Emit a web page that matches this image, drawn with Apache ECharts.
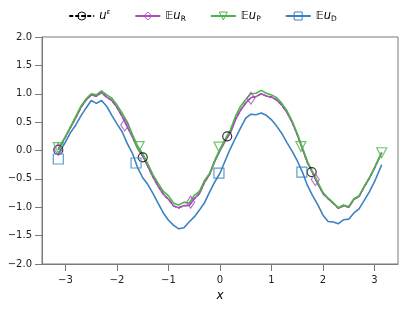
<!DOCTYPE html>
<html>
<head>
<meta charset="utf-8">
<script src="https://cdn.jsdelivr.net/npm/echarts@6/dist/echarts.min.js"></script>
<style>html,body{margin:0;padding:0;background:#fff;}#c{width:405px;height:309px;}</style>
</head>
<body>
<div id="c"></div>
<script>
const xs = [-3.14,-3.0,-2.9,-2.8,-2.7,-2.6,-2.5,-2.4,-2.3,-2.2,-2.1,-2.0,-1.9,-1.8,-1.7,-1.6,-1.5,-1.4,-1.3,-1.2,-1.1,-1.0,-0.9,-0.8,-0.7,-0.6,-0.5,-0.4,-0.3,-0.2,-0.1,0.0,0.1,0.2,0.3,0.4,0.5,0.6,0.7,0.8,0.9,1.0,1.1,1.2,1.3,1.4,1.5,1.6,1.7,1.8,1.9,2.0,2.1,2.2,2.3,2.4,2.5,2.6,2.7,2.8,2.9,3.0,3.14];
const uEps = [0.02,0.24,0.41,0.58,0.76,0.89,0.98,0.96,1.02,0.94,0.88,0.76,0.60,0.42,0.24,0.04,-0.10,-0.28,-0.47,-0.63,-0.77,-0.86,-0.98,-1.01,-0.97,-0.97,-0.85,-0.76,-0.56,-0.41,-0.18,0.00,0.18,0.31,0.55,0.71,0.84,0.93,0.95,1.00,0.96,0.94,0.89,0.80,0.67,0.50,0.28,0.03,-0.22,-0.40,-0.59,-0.76,-0.85,-0.93,-1.02,-0.97,-1.00,-0.86,-0.81,-0.64,-0.49,-0.31,-0.04];
const EuR = [0.02,0.24,0.41,0.58,0.76,0.89,0.98,0.96,1.02,0.94,0.88,0.76,0.60,0.42,0.24,0.04,-0.10,-0.28,-0.47,-0.63,-0.77,-0.86,-0.98,-1.01,-0.97,-0.97,-0.85,-0.76,-0.56,-0.42,-0.19,0.00,0.16,0.31,0.54,0.71,0.84,0.93,0.95,1.00,0.96,0.94,0.89,0.80,0.67,0.50,0.28,0.03,-0.22,-0.40,-0.59,-0.76,-0.85,-0.93,-1.02,-0.97,-1.00,-0.86,-0.81,-0.64,-0.49,-0.31,-0.04];
const EuP = [0.03,0.25,0.42,0.60,0.78,0.91,1.00,0.98,1.05,0.98,0.92,0.80,0.66,0.50,0.28,0.08,-0.06,-0.24,-0.43,-0.58,-0.72,-0.80,-0.93,-0.96,-0.91,-0.93,-0.79,-0.72,-0.53,-0.40,-0.17,0.03,0.20,0.36,0.60,0.78,0.90,1.00,1.01,1.06,1.01,0.98,0.93,0.83,0.70,0.52,0.30,0.05,-0.20,-0.38,-0.56,-0.74,-0.84,-0.92,-1.01,-0.96,-0.99,-0.85,-0.80,-0.63,-0.48,-0.30,-0.03];
const EuD = [-0.06,0.15,0.32,0.45,0.61,0.75,0.88,0.83,0.88,0.78,0.62,0.47,0.33,0.12,-0.05,-0.30,-0.48,-0.60,-0.76,-0.93,-1.10,-1.23,-1.32,-1.38,-1.36,-1.26,-1.17,-1.05,-0.92,-0.73,-0.55,-0.40,-0.18,0.03,0.22,0.40,0.57,0.64,0.63,0.66,0.62,0.54,0.43,0.30,0.14,-0.01,-0.18,-0.38,-0.62,-0.80,-0.96,-1.14,-1.25,-1.26,-1.29,-1.22,-1.21,-1.10,-1.03,-0.88,-0.73,-0.55,-0.25];
const uEpsMarks = [[-3.14,0.01],[-1.50,-0.12],[0.14,0.25],[1.78,-0.38]];
const EuRMarks = [[-3.14,0.02],[-1.85,0.45],[-0.57,-0.91],[0.60,0.92],[1.85,-0.51]];
const EuPMarks = [[-3.14,0.05],[-1.57,0.07],[-0.02,0.06],[1.57,0.07],[3.14,-0.04]];
const EuDMarks = [[-3.14,-0.15],[-1.63,-0.22],[-0.02,-0.40],[1.59,-0.38]];
const xTicks = [-3,-2,-1,0,1,2,3];
const yTicks = [-2.0,-1.5,-1.0,-0.5,0.0,0.5,1.0,1.5,2.0];

const C = {uEps:'#000000', EuR:'#a552bb', EuP:'#4eb449', EuD:'#3a82c2'};
const pair = arr => xs.map((x,i)=>[x,arr[i]]);
const fmt = v => String(v).replace('-', '\u2212');
const FONT = 'DejaVu Sans';

function lineSeries(name, data, color, symbol, opts) {
  return Object.assign({
    name, type:'line', data: pair(data), showSymbol:false, symbol, symbolSize:9,
    lineStyle:{color, width:1.6}, itemStyle:{color:'rgba(0,0,0,0)', borderColor:color, borderWidth:1},
    emphasis:{disabled:true}, animation:false, z:2
  }, opts||{});
}
function markSeries(data, color, symbol, size, rot) {
  return {type:'scatter', data, symbol, symbolSize:size, symbolRotate:rot||0,
    itemStyle:{color:'rgba(0,0,0,0)', borderColor:color, borderWidth:1.2, opacity:0.8},
    emphasis:{disabled:true}, animation:false, z:5};
}

const chart = echarts.init(document.getElementById('c'), null, {renderer:'canvas'});
chart.setOption({
  animation:false,
  textStyle:{fontFamily:FONT},
  grid:{left:42, right:7, top:37, bottom:45, show:true, borderColor:'#7a7a7a', borderWidth:1, outerBoundsMode:'none'},
  legend:{
    top:4, left:'center', itemWidth:25, itemHeight:10, itemGap:24,
    data:['uEps','EuR','EuP','EuD'],
    itemStyle:{borderWidth:1},
    formatter: n => ({uEps:'{it|u}{sup|ε}', EuR:'{bb|𝔼}{it|u}{sub|R}', EuP:'{bb|𝔼}{it|u}{sub|P}', EuD:'{bb|𝔼}{it|u}{sub|D}'})[n],
    textStyle:{fontFamily:FONT, color:'#000', fontSize:11,
      rich:{
        it:{fontFamily:FONT, fontStyle:'italic', fontSize:11.5, color:'#000', lineHeight:14},
        bb:{fontFamily:FONT, fontStyle:'italic', fontSize:11, color:'#000', lineHeight:14},
        sup:{fontFamily:FONT, fontStyle:'italic', fontSize:7, color:'#000', verticalAlign:'top', lineHeight:9},
        sub:{fontFamily:FONT, fontSize:7.5, color:'#000', verticalAlign:'bottom', lineHeight:9}
      }}
  },
  xAxis:{
    type:'value', min:-3.456, max:3.456,
    name:'x', nameLocation:'middle', nameGap:22,
    nameTextStyle:{fontFamily:FONT, fontStyle:'italic', fontSize:12, color:'#000'},
    axisLine:{show:true, onZero:false, lineStyle:{color:'#7a7a7a', width:1}},
    axisTick:{show:true, length:7, lineStyle:{color:'#7a7a7a'}, customValues:xTicks},
    axisLabel:{fontFamily:FONT, fontSize:10, color:'#222', margin:11, customValues:xTicks, formatter:v=>fmt(v)},
    splitLine:{show:false}
  },
  yAxis:{
    type:'value', min:-2, max:2, interval:0.5,
    axisLine:{show:true, onZero:false, lineStyle:{color:'#7a7a7a', width:1}},
    axisTick:{show:true, length:7, lineStyle:{color:'#7a7a7a'}},
    axisLabel:{fontFamily:FONT, fontSize:10, color:'#222', margin:10, formatter:v=>fmt(v.toFixed(1))},
    splitLine:{show:false}
  },
  series:[
    lineSeries('uEps', uEps, C.uEps, 'circle', {lineStyle:{color:C.uEps, width:1.3, type:[4,2]}, z:1}),
    lineSeries('EuR', EuR, C.EuR, 'diamond', {symbolSize:[7,11]}),
    lineSeries('EuP', EuP, C.EuP, 'triangle', {symbolRotate:180}),
    lineSeries('EuD', EuD, C.EuD, 'rect'),
    markSeries(uEpsMarks, C.uEps, 'circle', 9),
    markSeries(EuRMarks, C.EuR, 'diamond', [8,12]),
    markSeries(EuPMarks, C.EuP, 'triangle', 10, 180),
    markSeries(EuDMarks, C.EuD, 'rect', 10)
  ]
});
</script>
</body>
</html>
